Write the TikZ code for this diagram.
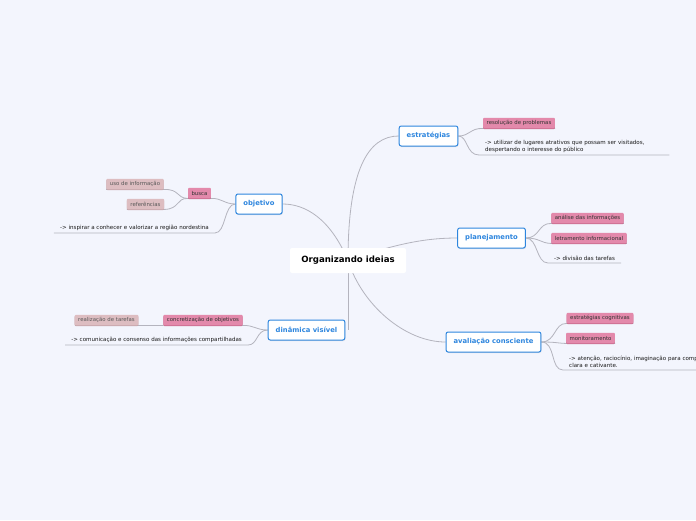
\documentclass[tikz,border=0pt]{standalone}
\usepackage{fontspec}
\setmainfont{DejaVu Sans}
\usetikzlibrary{backgrounds,shadows}
\definecolor{bg}{HTML}{F3F5FD}
\definecolor{topicblue}{HTML}{2E86DE}
\definecolor{conn}{HTML}{B4B4BE}
\definecolor{pinkfill}{HTML}{E389AB}
\definecolor{pinkshade}{HTML}{C8688C}
\definecolor{lpfill}{HTML}{DDBDC1}
\definecolor{lpshade}{HTML}{C4A2A7}
\tikzset{
  central/.style={fill=white, rounded corners=2pt, minimum width=116pt, minimum height=25pt,
    font=\fontsize{8.6}{10}\selectfont\bfseries, text=black},
  topic/.style={draw=topicblue, line width=1pt, fill=white, rounded corners=2pt,
    minimum height=20pt, inner xsep=7.5pt, font=\fontsize{6.8}{8}\selectfont\bfseries,
    text=topicblue, drop shadow={opacity=0.18, shadow xshift=0.6pt, shadow yshift=-1pt}},
  pinkbox/.style={fill=pinkfill, minimum height=10.5pt, inner xsep=3.5pt, inner ysep=0pt,
    rounded corners=1pt, font=\fontsize{5.4}{6}\selectfont, text=black!80,
    drop shadow={fill=pinkshade, opacity=1, shadow xshift=0pt, shadow yshift=-0.8pt}},
  lpbox/.style={fill=lpfill, minimum height=10.5pt, inner xsep=3.5pt, inner ysep=0pt,
    rounded corners=1pt, font=\fontsize{5.4}{6}\selectfont, text=black!65,
    drop shadow={fill=lpshade, opacity=1, shadow xshift=0pt, shadow yshift=-0.8pt}},
  txt/.style={font=\fontsize{5.55}{7}\selectfont, text=black!90, inner xsep=6pt,
    inner ysep=2.3pt, align=left},
  link/.style={draw=conn, line width=0.8pt},
}
\begin{document}
\begin{tikzpicture}[x=1pt,y=-1pt]
\useasboundingbox (0,0) rectangle (696,520);
% central
\node[central] (c) at (348,260.5) {Organizando ideias};
% main topics
\node[topic] (estr) at (428.5,136) {estratégias};
\node[topic] (plan) at (491.5,238) {planejamento};
\node[topic] (aval) at (493.5,342) {avaliação consciente};
\node[topic] (obj) at (259,204) {objetivo};
\node[topic] (dyn) at (306.5,330) {dinâmica visível};
% estrategias children
\node[pinkbox] (res) at (519,123) {resolução de problemas};
\node[txt, anchor=south west, text width=178pt] (util) at (479,155)
  {-> utilizar de lugares atrativos que possam ser visitados,\\despertando o interesse do público};
% planejamento children
\node[pinkbox] (ana) at (587.5,218) {análise das informações};
\node[pinkbox] (letr) at (589,238) {letramento informacional};
\node[txt, anchor=south west] (div) at (548,263) {-> divisão das tarefas};
% avaliacao children
\node[pinkbox] (estc) at (600,318) {estratégias cognitivas};
\node[pinkbox] (mon) at (590.5,338) {monitoramento};
\node[txt, anchor=south west, text width=150pt] (aten) at (563,370)
  {-> atenção, raciocínio, imaginação para comp\\clara e cativante.};
% objetivo children
\node[pinkbox] (busca) at (199.5,193) {busca};
\node[lpbox] (uso) at (135,184) {uso de informação};
\node[lpbox] (ref) at (145.5,204) {referências};
\node[txt, anchor=south east] (insp) at (215,233) {-> inspirar a conhecer e valorizar a região nordestina};
% dinamica children
\node[pinkbox] (conc) at (203,320) {concretização de objetivos};
\node[lpbox] (real) at (106.5,320) {realização de tarefas};
\node[txt, anchor=south east] (com) at (248,345) {-> comunicação e consenso das informações compartilhadas};

\begin{pgfonlayer}{background}
\fill[bg] (0,0) rectangle (696,520);
% central connectors
\draw[link] (c.center) .. controls (348,170) and (368,136) .. (estr.west);
\draw[link] (c.center) .. controls (400,242) and (430,238) .. (plan.west);
\draw[link] (c.center) .. controls (362,305) and (405,342) .. (aval.west);
\draw[link] (c.center) .. controls (330,218) and (305,204) .. (obj.east);
\draw[link] (c.center) -- (c.center |- dyn.east);
% estrategias
\draw[link] (estr.east) .. controls (470,136) and (470,128) .. (res.south west) -- (res.south east);
\draw[link] (estr.east) .. controls (468,136) and (466,155) .. (util.south west) -- (util.south east);
% planejamento
\draw[link] (plan.east) .. controls (540,238) and (538,223) .. (ana.south west) -- (ana.south east);
\draw[link] (plan.east) .. controls (540,238) and (540,243) .. (letr.south west) -- (letr.south east);
\draw[link] (plan.east) .. controls (538,238) and (536,263) .. (div.south west) -- (div.south east);
% avaliacao
\draw[link] (aval.east) .. controls (556,342) and (554,323) .. (estc.south west) -- (estc.south east);
\draw[link] (aval.east) .. controls (556,342) and (556,343) .. (mon.south west) -- (mon.south east);
\draw[link] (aval.east) .. controls (556,342) and (550,370) .. (aten.south west) -- (aten.south east);
% objetivo
\draw[link] (obj.west) .. controls (224,204) and (222,198) .. (busca.south east) -- (busca.south west);
\draw[link] (busca.south west) .. controls (176,198) and (180,189) .. (uso.south east) -- (uso.south west);
\draw[link] (busca.south west) .. controls (176,198) and (180,209) .. (ref.south east) -- (ref.south west);
\draw[link] (obj.west) .. controls (224,204) and (226,233) .. (insp.south east) -- (insp.south west);
% dinamica
\draw[link] (dyn.west) .. controls (256,330) and (254,325) .. (conc.south east) -- (conc.south west);
\draw[link] (conc.south west) -- (real.south east) -- (real.south west);
\draw[link] (dyn.west) .. controls (256,330) and (258,345) .. (com.south east) -- (com.south west);
\end{pgfonlayer}
\end{tikzpicture}
\end{document}
